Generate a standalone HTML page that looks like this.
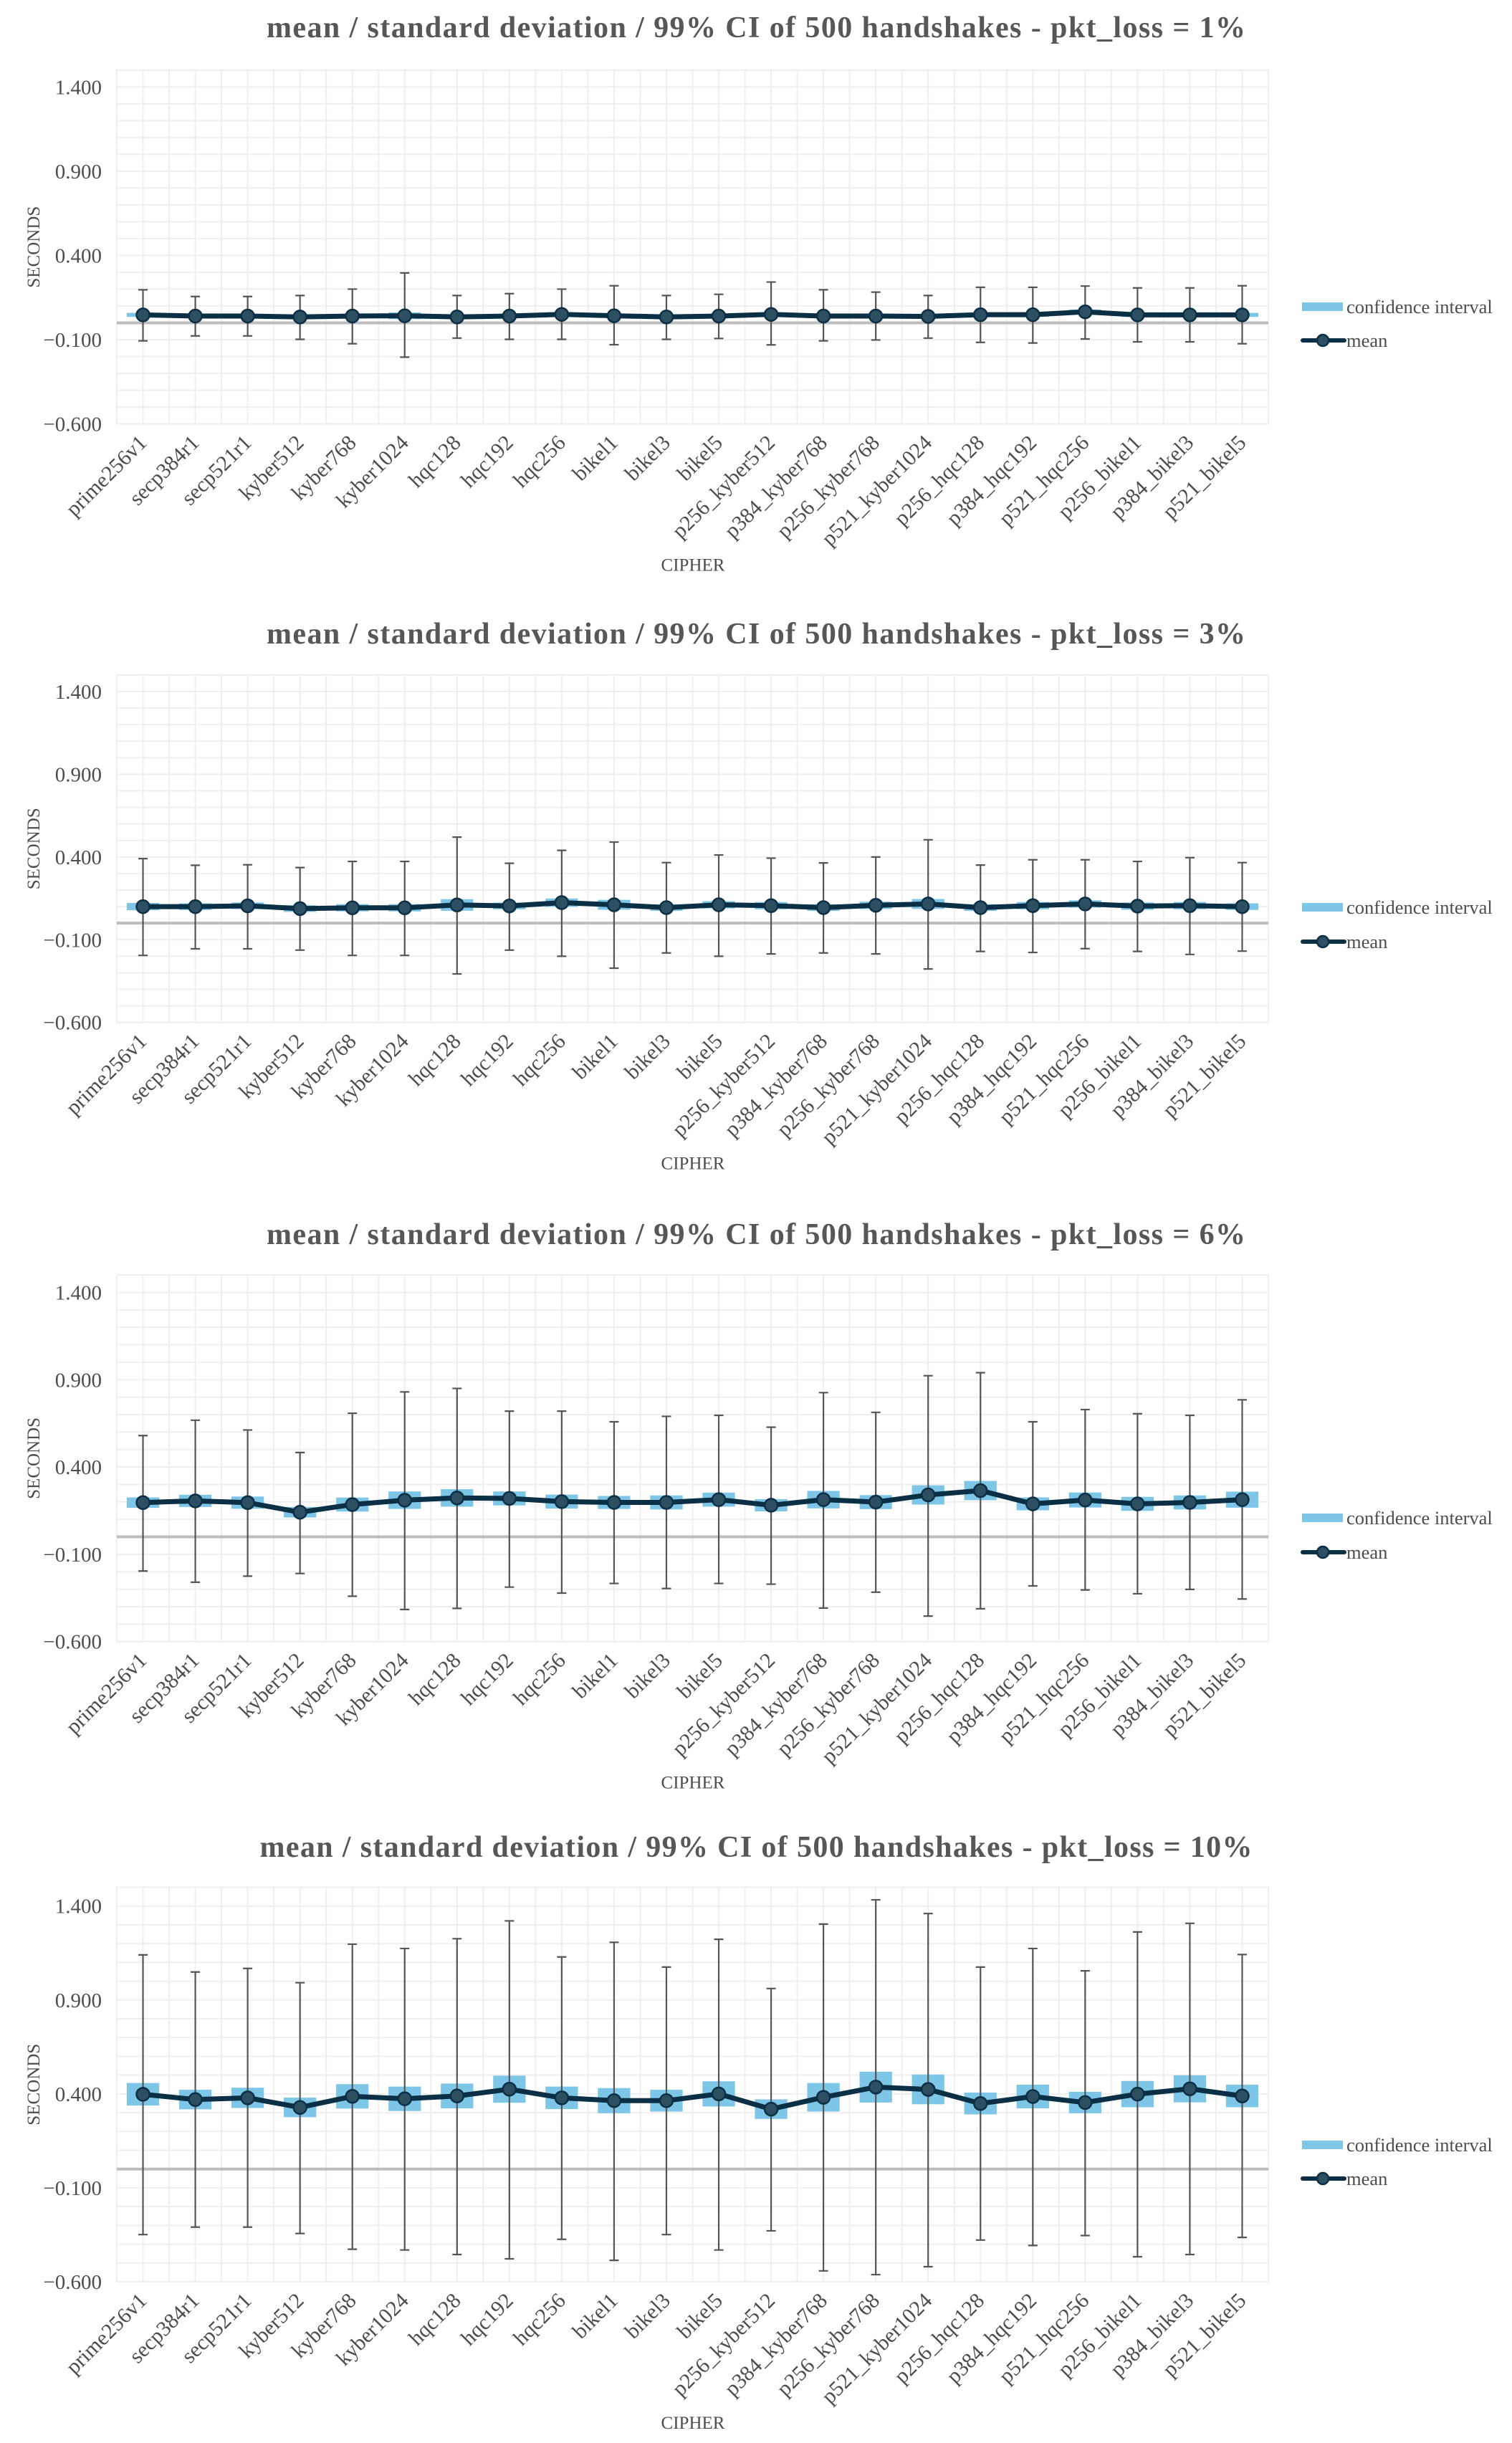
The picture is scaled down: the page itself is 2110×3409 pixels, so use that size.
<!DOCTYPE html>
<html>
<head>
<meta charset="utf-8">
<style>
html,body{margin:0;padding:0;background:#fff;}
svg{display:block;}
text{font-family:"Liberation Serif",serif;}
</style>
</head>
<body>
<svg id="chart" width="2110" height="3409" viewBox="0 0 2110 3409" xmlns="http://www.w3.org/2000/svg"></svg>
<script>
const categories = ["prime256v1","secp384r1","secp521r1","kyber512","kyber768","kyber1024","hqc128","hqc192","hqc256","bikel1","bikel3","bikel5","p256_kyber512","p384_kyber768","p256_kyber768","p521_kyber1024","p256_hqc128","p384_hqc192","p521_hqc256","p256_bikel1","p384_bikel3","p521_bikel5"];
const lossLabels = ["1%","3%","6%","10%"];
const yTicks = [-0.6,-0.1,0.4,0.9,1.4];
const yTickLabels = ["\u22120.600","\u22120.100","0.400","0.900","1.400"];

const mean_p1 = [0.047,0.04,0.04,0.035,0.04,0.042,0.035,0.04,0.05,0.042,0.035,0.04,0.05,0.04,0.04,0.038,0.048,0.048,0.065,0.047,0.047,0.047];
const ci_p1   = [0.012,0.01,0.01,0.01,0.012,0.02,0.01,0.01,0.012,0.012,0.01,0.01,0.012,0.01,0.01,0.01,0.012,0.012,0.014,0.012,0.012,0.012];
const sdHigh_p1 = [0.196,0.156,0.156,0.162,0.2,0.296,0.162,0.173,0.2,0.22,0.162,0.169,0.242,0.196,0.182,0.162,0.211,0.211,0.218,0.207,0.207,0.22];
const sdLow_p1  = [-0.107,-0.078,-0.078,-0.098,-0.124,-0.204,-0.091,-0.098,-0.098,-0.13,-0.098,-0.093,-0.131,-0.107,-0.102,-0.091,-0.116,-0.12,-0.096,-0.113,-0.113,-0.124];

const mean_p2 = [0.10,0.10,0.105,0.088,0.093,0.093,0.11,0.104,0.124,0.111,0.094,0.111,0.106,0.094,0.108,0.116,0.094,0.106,0.116,0.103,0.106,0.10];
const ci_p2   = [0.022,0.02,0.02,0.02,0.022,0.022,0.035,0.02,0.025,0.03,0.02,0.022,0.022,0.02,0.022,0.03,0.02,0.022,0.022,0.022,0.022,0.02];
const sdHigh_p2 = [0.39,0.35,0.353,0.336,0.373,0.373,0.52,0.362,0.44,0.49,0.366,0.412,0.393,0.364,0.40,0.504,0.351,0.383,0.383,0.373,0.396,0.366];
const sdLow_p2  = [-0.195,-0.155,-0.155,-0.163,-0.195,-0.195,-0.307,-0.163,-0.20,-0.272,-0.18,-0.20,-0.186,-0.18,-0.186,-0.277,-0.171,-0.177,-0.154,-0.171,-0.189,-0.169];

const mean_p3 = [0.196,0.206,0.196,0.141,0.185,0.21,0.223,0.22,0.202,0.197,0.197,0.213,0.181,0.213,0.199,0.24,0.265,0.189,0.211,0.189,0.197,0.213];
const ci_p3   = [0.03,0.035,0.035,0.03,0.04,0.05,0.05,0.04,0.04,0.037,0.04,0.04,0.035,0.05,0.04,0.055,0.055,0.037,0.043,0.04,0.04,0.046];
const sdHigh_p3 = [0.58,0.668,0.612,0.483,0.708,0.83,0.85,0.72,0.72,0.659,0.69,0.696,0.628,0.826,0.713,0.923,0.94,0.659,0.729,0.705,0.696,0.785];
const sdLow_p3  = [-0.196,-0.26,-0.225,-0.21,-0.34,-0.416,-0.41,-0.288,-0.322,-0.267,-0.296,-0.267,-0.271,-0.408,-0.317,-0.454,-0.412,-0.281,-0.304,-0.326,-0.301,-0.356];

const mean_p4 = [0.398,0.37,0.379,0.328,0.387,0.374,0.389,0.425,0.379,0.364,0.364,0.40,0.319,0.382,0.436,0.424,0.349,0.386,0.354,0.399,0.427,0.389];
const ci_p4   = [0.06,0.052,0.054,0.052,0.065,0.065,0.066,0.072,0.06,0.067,0.058,0.067,0.052,0.076,0.082,0.079,0.058,0.063,0.057,0.07,0.072,0.06];
const sdHigh_p4 = [1.14,1.049,1.068,0.992,1.197,1.174,1.226,1.321,1.129,1.207,1.075,1.223,0.961,1.304,1.433,1.36,1.075,1.174,1.055,1.262,1.308,1.142];
const sdLow_p4  = [-0.349,-0.309,-0.309,-0.343,-0.427,-0.431,-0.455,-0.478,-0.374,-0.486,-0.349,-0.431,-0.329,-0.542,-0.562,-0.52,-0.378,-0.407,-0.354,-0.467,-0.455,-0.364];

const NS = "http://www.w3.org/2000/svg";
const svg = document.getElementById("chart");
function mk(tag, attrs, parent){
  const e = document.createElementNS(NS, tag);
  for (const k in attrs) e.setAttribute(k, attrs[k]);
  (parent||svg).appendChild(e);
  return e;
}
const X0 = 163, X1 = 1770, YMIN = -0.6, YMAX = 1.5;
const step = (X1 - X0) / categories.length;
function xPos(i){ return X0 + (i + 0.5) * step; }

const panelGeom = [
  {top:97.8, bottom:591.5, titleY:52, ciLegY:428, meanLegY:475},
  {top:941.9, bottom:1426.7, titleY:898, ciLegY:1266, meanLegY:1314},
  {top:1779.1, bottom:2290.7, titleY:1736, ciLegY:2118, meanLegY:2166},
  {top:2633.5, bottom:3184, titleY:2591, ciLegY:2993, meanLegY:3040}
];
const allMeans = [mean_p1, mean_p2, mean_p3, mean_p4];
const allCI = [ci_p1, ci_p2, ci_p3, ci_p4];
const allHigh = [sdHigh_p1, sdHigh_p2, sdHigh_p3, sdHigh_p4];
const allLow = [sdLow_p1, sdLow_p2, sdLow_p3, sdLow_p4];

panelGeom.forEach((g, p) => {
  const yPos = v => g.bottom - (v - YMIN) / (YMAX - YMIN) * (g.bottom - g.top);
  const grp = mk("g", {});
  
  

  const title = mk("text", {x:1055, y:g.titleY, "text-anchor":"middle", "font-size":42, "font-weight":"bold", fill:"#575757", textLength: p===3 ? 1385 : 1366, lengthAdjust:"spacing"}, grp);
  title.textContent = "mean / standard deviation / 99% CI of 500 handshakes -  pkt_loss = " + lossLabels[p];
  
  

  const border = mk("rect", {x:X0, y:g.top, width:X1-X0, height:g.bottom-g.top, fill:"none", stroke:"#efefef", "stroke-width":2}, grp);
  
  

  for (let k = 0; k <= 21; k++) {
    const v = YMIN + k * 0.1;
    const y = yPos(v);
    const gl = mk("line", {x1:X0, x2:X1, y1:y, y2:y, stroke:"#efefef", "stroke-width":2}, grp);
    
    
  }
  for (let i = 0; i < categories.length; i++) {
    [xPos(i), xPos(i) + step/2].forEach(x => {
      if (x > X1 - 1) return;
      const vl = mk("line", {x1:x, x2:x, y1:g.top, y2:g.bottom, stroke:"#efefef", "stroke-width":2}, grp);
      
      
    });
  }
  yTicks.forEach((v, k) => {
    const t = mk("text", {x:142, y:yPos(v) + 10, "text-anchor":"end", "font-size":29, fill:"#4d4d4d"}, grp);
    t.textContent = yTickLabels[k];
    
    
  });
  const z = mk("line", {x1:X0, x2:X1, y1:yPos(0), y2:yPos(0), stroke:"#bdbdbd", "stroke-width":4}, grp);
  
  

  const means = allMeans[p], ci = allCI[p], hi = allHigh[p], lo = allLow[p];
  means.forEach((m, i) => {
    const w = step * 0.62;
    const r = mk("rect", {x:xPos(i) - w/2, y:yPos(m + ci[i]), width:w, height:Math.max(2, yPos(m - ci[i]) - yPos(m + ci[i])), fill:"#7ec6e8"}, grp);
    
    
  });
  means.forEach((m, i) => {
    const x = xPos(i), yh = yPos(hi[i]), yl = yPos(lo[i]);
    const eb = mk("path", {d:`M${x},${yh}V${yl}M${x-6.5},${yh}H${x+6.5}M${x-6.5},${yl}H${x+6.5}`, stroke:"#555", "stroke-width":2.2, fill:"none"}, grp);
    
    
  });
  const pts = means.map((m, i) => xPos(i) + "," + yPos(m)).join(" ");
  const pl = mk("polyline", {points:pts, fill:"none", stroke:"#0b2f44", "stroke-width":7, "stroke-linejoin":"round"}, grp);
  
  
  means.forEach((m, i) => {
    const c = mk("circle", {cx:xPos(i), cy:yPos(m), r:9, fill:"#2c4f62", stroke:"#0b2f44", "stroke-width":2.5}, grp);
    
    
  });
  categories.forEach((c, i) => {
    const tx = xPos(i) + 7, ty = g.bottom + 28;
    const t = mk("text", {x:tx, y:ty, "text-anchor":"end", "font-size":30, fill:"#4d4d4d", transform:`rotate(-45 ${tx} ${ty})`}, grp);
    t.textContent = c;
    
    
  });
  const xt = mk("text", {x:967, y:g.bottom + 205, "text-anchor":"middle", "font-size":25, fill:"#4d4d4d"}, grp);
  xt.textContent = "CIPHER";
  
  
  const ymid = (g.top + g.bottom) / 2;
  const yt = mk("text", {x:55, y:ymid, "text-anchor":"middle", "font-size":25, fill:"#4d4d4d", transform:`rotate(-90 55 ${ymid})`}, grp);
  yt.textContent = "SECONDS";
  
  

  const lr = mk("rect", {x:1817, y:g.ciLegY - 6, width:57, height:12, fill:"#7ec6e8"}, grp);
  
  
  const lt = mk("text", {x:1879, y:g.ciLegY + 9, "font-size":26.5, fill:"#4d4d4d"}, grp);
  lt.textContent = "confidence interval";
  
  
  const ll = mk("line", {x1:1818, x2:1876, y1:g.meanLegY, y2:g.meanLegY, stroke:"#0b2f44", "stroke-width":6, "stroke-linecap":"round"}, grp);
  
  
  const lc = mk("circle", {cx:1846, cy:g.meanLegY, r:8, fill:"#2c4f62", stroke:"#0b2f44", "stroke-width":2.5}, grp);
  
  
  const lm = mk("text", {x:1879, y:g.meanLegY + 9, "font-size":26.5, fill:"#4d4d4d"}, grp);
  lm.textContent = "mean";
  
  
});
</script>
</body>
</html>
